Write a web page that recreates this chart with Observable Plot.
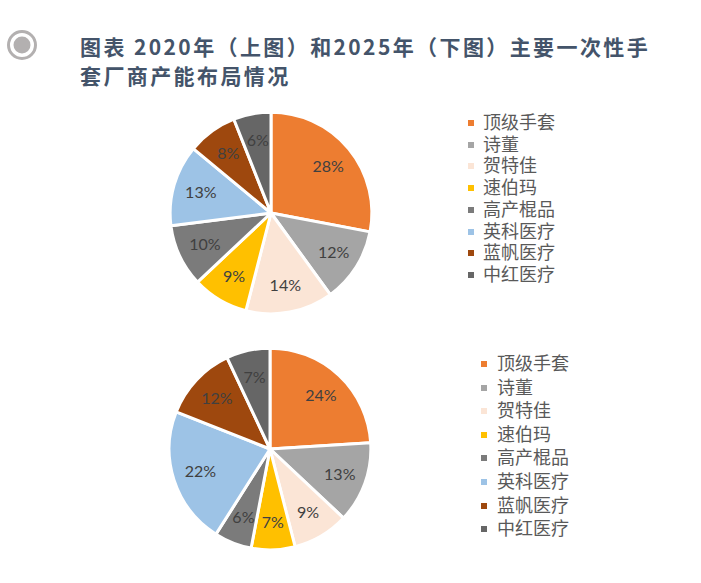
<!DOCTYPE html>
<html lang="zh-CN"><head><meta charset="utf-8">
<script src="https://cdn.jsdelivr.net/npm/d3@7"></script>
<script src="https://cdn.jsdelivr.net/npm/@observablehq/plot@0.6"></script>
<style>
html,body{margin:0;padding:0;background:#fff;}
#root{position:relative;width:701px;height:583px;overflow:hidden;font-family:"Noto Sans CJK SC","Noto Sans",sans-serif;}
.title{position:absolute;left:80px;top:32px;font-size:21px;font-weight:700;color:#44546A;letter-spacing:2.4px;line-height:29px;white-space:nowrap;}
.icon{position:absolute;left:6px;top:29px;}
.pie{position:absolute;}
.leg{position:absolute;font-size:18px;color:#595959;font-family:"Liberation Sans","Noto Sans CJK SC",sans-serif;}
.row{position:absolute;left:0;height:20px;line-height:20px;white-space:nowrap;}
.sw{position:absolute;top:7px;width:6px;height:6px;}
.lt{position:absolute;display:block;top:0;height:20px;line-height:20px;}
</style></head><body>
<div id="root"></div>
<script>
const names = ["顶级手套","诗董","贺特佳","速伯玛","高产棍品","英科医疗","蓝帆医疗","中红医疗"];
const colors = ["#ED7D31","#A5A5A5","#FBE5D6","#FFC000","#7B7B7B","#9DC3E6","#9E480E","#666666"];
const share2020 = [28,12,14,9,10,13,8,6];
const share2025 = [24,13,9,7,6,22,12,7];
const titleLines = ["图表 2020年（上图）和2025年（下图）主要一次性手","套厂商产能布局情况"];

const root = document.getElementById("root");

// icon
root.insertAdjacentHTML("beforeend",
  `<svg class="icon" width="32" height="32"><circle cx="16" cy="16" r="13.5" fill="none" stroke="#B3B0B0" stroke-width="3"/><circle cx="16" cy="16" r="8.5" fill="#B3B0B0"/></svg>`);

const t = document.createElement("div");
t.className = "title";
t.innerHTML = titleLines.join("<br>");
root.appendChild(t);

function pieChart(values, size) {
  const arcs = d3.pie().sort(null).value(d => d)(values);
  const data = names.map((n, i) => ({
    name: n, value: values[i], color: colors[i],
    start: arcs[i].startAngle, end: arcs[i].endAngle,
    mid: (arcs[i].startAngle + arcs[i].endAngle) / 2
  }));
  const slices = (index, scales) => {
    const cx = scales.x(0), cy = scales.y(0), R = scales.x(1) - scales.x(0);
    const g = d3.create("svg:g").attr("transform", `translate(${cx},${cy})`);
    const arc = d3.arc().innerRadius(0).outerRadius(R);
    g.selectAll("path").data(data).join("path")
      .attr("d", d => arc({startAngle: d.start, endAngle: d.end}))
      .attr("fill", d => d.color)
      .attr("stroke", "#fff").attr("stroke-width", 3).attr("stroke-linejoin", "round");
    return g.node();
  };
  return Plot.plot({
    width: size, height: size, margin: 0,
    x: {domain: [-1.15, 1.15], axis: null},
    y: {domain: [-1.15, 1.15], axis: null},
    marks: [
      slices,
      Plot.text(data, {
        x: d => 0.73 * Math.sin(d.mid),
        y: d => 0.73 * Math.cos(d.mid),
        text: d => d.value + "%",
        fill: "#404040", fontSize: 16, fontFamily: "Lato, 'Noto Sans', sans-serif"
      })
    ]
  });
}

function place(el, left, top) {
  el.classList.add("pie");
  el.style.left = left + "px";
  el.style.top = top + "px";
  root.appendChild(el);
}
const S = 232;
place(pieChart(share2020, S), 271 - S / 2, 213 - S / 2);
place(pieChart(share2025, S), 270 - S / 2, 449 - S / 2);

function legend(swX, textX, y0, step) {
  const d = document.createElement("div");
  d.className = "leg";
  d.style.left = "0px"; d.style.top = "0px";
  names.forEach((n, i) => {
    const r = document.createElement("div");
    r.className = "row";
    r.style.top = (y0 + step * i - 10) + "px";
    r.innerHTML = `<span class="sw" style="left:${swX}px;background:${colors[i]}"></span><span class="lt" style="left:${textX}px">${n}</span>`;
    d.appendChild(r);
  });
  root.appendChild(d);
}
legend(468, 483, 123, 21.7);
legend(481, 497, 364, 23.6);
</script>
</body></html>
